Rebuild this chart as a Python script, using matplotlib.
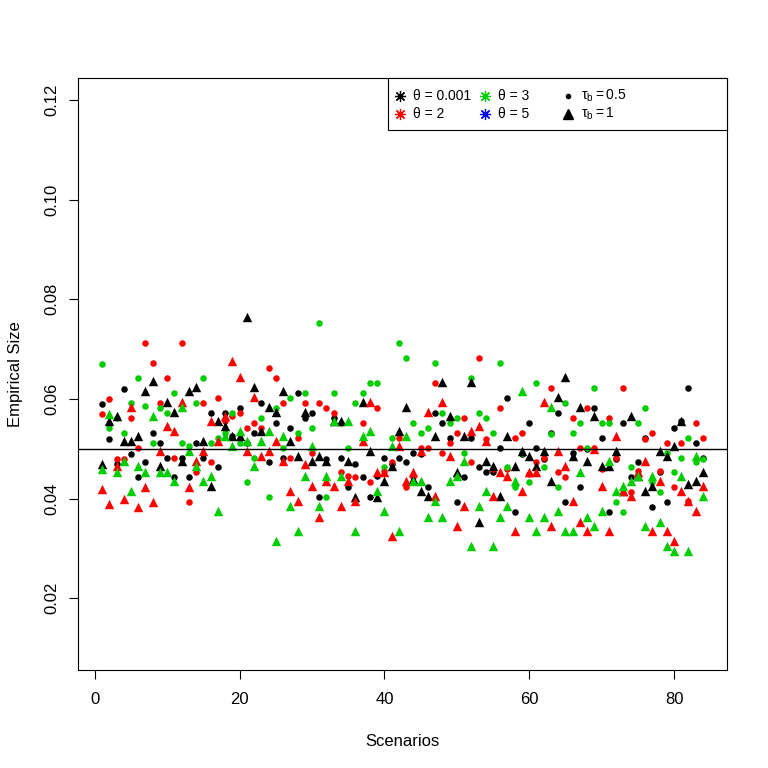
import matplotlib
matplotlib.use("Agg")
import matplotlib.pyplot as plt
import numpy as np
from matplotlib.patches import Rectangle

plt.rcParams['font.family'] = ['Liberation Sans', 'DejaVu Sans']
plt.rcParams['mathtext.default'] = 'regular'

scenarios = np.arange(1, 85)

# tau_b = 0.5 (circles)
size_t05_th0001 = [
    0.059, 0.052, 0.047, 0.062, 0.049, 0.0443, 0.0473, 0.0532, 0.0511, 0.0481,
    0.0443, 0.0481, 0.0443, 0.0511, 0.0481, 0.0572, 0.0463, 0.0572, 0.0525, 0.0582,
    0.0511, 0.0532, 0.0592, 0.0473, 0.0552, 0.0481, 0.0542, 0.0612, 0.0562, 0.0572,
    0.0403, 0.048, 0.0562, 0.0481, 0.0423, 0.047, 0.0443, 0.0403, 0.0445, 0.0481,
    0.047, 0.0481, 0.0473, 0.0491, 0.049, 0.0423, 0.0572, 0.0552, 0.0521, 0.0393,
    0.0443, 0.0521, 0.0463, 0.0453, 0.0453, 0.0501, 0.0602, 0.0373, 0.049, 0.0552,
    0.0501, 0.048, 0.0532, 0.0572, 0.0393, 0.0491, 0.0423, 0.050, 0.0582, 0.0521,
    0.0373, 0.048, 0.0552, 0.0443, 0.0473, 0.0521, 0.0383, 0.0453, 0.0393, 0.0542,
    0.0555, 0.0622, 0.0511, 0.0481]
size_t05_th2 = [
    0.057, 0.060, 0.048, 0.048, 0.0562, 0.0501, 0.0713, 0.0672, 0.0592, 0.0642,
    0.0481, 0.0713, 0.0393, 0.0453, 0.0592, 0.0473, 0.0602, 0.0555, 0.0565, 0.0572,
    0.0542, 0.0552, 0.0542, 0.0662, 0.0642, 0.0592, 0.0481, 0.0521, 0.0592, 0.0491,
    0.0592, 0.0582, 0.0572, 0.0453, 0.0445, 0.0443, 0.0552, 0.0433, 0.0582, 0.0455,
    0.0473, 0.0521, 0.0423, 0.0444, 0.0501, 0.0501, 0.0632, 0.0491, 0.0511, 0.0532,
    0.0562, 0.0473, 0.0682, 0.052, 0.046, 0.0582, 0.046, 0.0521, 0.0532, 0.045,
    0.0473, 0.0481, 0.0622, 0.0453, 0.0443, 0.0562, 0.0501, 0.0582, 0.0501, 0.046,
    0.0562, 0.0481, 0.0622, 0.0413, 0.0455, 0.052, 0.0532, 0.0455, 0.0511, 0.0423,
    0.0511, 0.0395, 0.0552, 0.0521]
size_t05_th3 = [
    0.067, 0.0542, 0.0562, 0.0532, 0.0592, 0.0642, 0.0585, 0.0511, 0.0582, 0.0572,
    0.0612, 0.0511, 0.0505, 0.0592, 0.0642, 0.0511, 0.0521, 0.0532, 0.0572, 0.0511,
    0.0433, 0.0481, 0.0562, 0.0403, 0.0582, 0.0501, 0.0602, 0.0532, 0.0612, 0.0542,
    0.0753, 0.0403, 0.0612, 0.0552, 0.0501, 0.0592, 0.0612, 0.0632, 0.0632, 0.0463,
    0.0521, 0.0713, 0.0682, 0.0552, 0.0532, 0.0542, 0.0672, 0.0572, 0.0552, 0.0562,
    0.0491, 0.0642, 0.0572, 0.0562, 0.0532, 0.0672, 0.0463, 0.0423, 0.0491, 0.0433,
    0.0632, 0.0463, 0.053, 0.0423, 0.0592, 0.0532, 0.0552, 0.0501, 0.0622, 0.0552,
    0.0552, 0.0393, 0.0373, 0.0463, 0.0552, 0.0582, 0.0433, 0.0413, 0.0491, 0.0453,
    0.0481, 0.0521, 0.0473, 0.048]

# tau_b = 1 (triangles)
size_t1_th0001 = [
    0.047, 0.0556, 0.0566, 0.0515, 0.0515, 0.0525, 0.0615, 0.0636, 0.0465, 0.0594,
    0.0574, 0.0475, 0.0615, 0.0624, 0.0515, 0.0425, 0.0556, 0.0546, 0.0525, 0.0525,
    0.0765, 0.0624, 0.0535, 0.0584, 0.0574, 0.0615, 0.0515, 0.0485, 0.0574, 0.0475,
    0.0485, 0.0475, 0.0555, 0.0556, 0.0475, 0.0403, 0.0594, 0.0495, 0.0403, 0.0435,
    0.0465, 0.0535, 0.0584, 0.044, 0.0415, 0.0405, 0.0525, 0.0634, 0.0566, 0.0454,
    0.0525, 0.0634, 0.0354, 0.0475, 0.0465, 0.0405, 0.0525, 0.0465, 0.0495, 0.0485,
    0.0465, 0.0495, 0.0435, 0.0604, 0.0644, 0.0485, 0.0584, 0.0475, 0.0566, 0.0465,
    0.0465, 0.0495, 0.0415, 0.0566, 0.0445, 0.0415, 0.0425, 0.0495, 0.0485, 0.0505,
    0.0556, 0.043, 0.0435, 0.0454]
size_t1_th2 = [
    0.042, 0.039, 0.0466, 0.040, 0.0584, 0.0384, 0.0424, 0.0394, 0.0495, 0.0546,
    0.0535, 0.0594, 0.0424, 0.0475, 0.0495, 0.0556, 0.0515, 0.0566, 0.0676, 0.0644,
    0.0495, 0.0604, 0.0485, 0.0495, 0.0515, 0.0475, 0.0415, 0.0395, 0.047, 0.0425,
    0.0364, 0.0435, 0.0425, 0.0385, 0.0435, 0.0395, 0.0515, 0.0594, 0.0454, 0.0454,
    0.0324, 0.0505, 0.0435, 0.0453, 0.0495, 0.0574, 0.0405, 0.0594, 0.0485, 0.0344,
    0.0385, 0.0535, 0.0546, 0.0515, 0.0405, 0.0454, 0.0445, 0.0334, 0.0415, 0.0454,
    0.0454, 0.0594, 0.0344, 0.0495, 0.0465, 0.0395, 0.0354, 0.0334, 0.050, 0.0425,
    0.0334, 0.0525, 0.0415, 0.0405, 0.0454, 0.0475, 0.0334, 0.0435, 0.0334, 0.0314,
    0.0415, 0.0395, 0.0375, 0.0425]
size_t1_th3 = [
    0.046, 0.057, 0.0454, 0.0475, 0.0415, 0.0465, 0.0454, 0.0566, 0.0454, 0.0454,
    0.0435, 0.0584, 0.0495, 0.0465, 0.0435, 0.0445, 0.0375, 0.0525, 0.0505, 0.0535,
    0.0515, 0.0465, 0.0515, 0.0535, 0.0314, 0.0525, 0.0385, 0.0334, 0.0445, 0.0505,
    0.0385, 0.0445, 0.0556, 0.0445, 0.0556, 0.0334, 0.0525, 0.0535, 0.0415, 0.0375,
    0.0505, 0.0334, 0.0525, 0.0435, 0.0435, 0.0364, 0.0395, 0.0364, 0.0435, 0.0445,
    0.0475, 0.0304, 0.0385, 0.0415, 0.0304, 0.0364, 0.0385, 0.0435, 0.0615, 0.0364,
    0.0334, 0.0364, 0.0584, 0.0375, 0.0334, 0.0334, 0.0454, 0.0364, 0.0344, 0.0375,
    0.0475, 0.0415, 0.0425, 0.0435, 0.0445, 0.0344, 0.0445, 0.0354, 0.0304, 0.0294,
    0.0445, 0.0294, 0.0485, 0.0405]

GREEN = '#00CD00'

fig = plt.figure(figsize=(7.68, 7.68), dpi=100)
ax = fig.add_axes([78 / 768, 1 - 670 / 768, (727 - 78) / 768, (670 - 78) / 768])

circ = dict(marker='o', s=22, linewidths=0)
tri = dict(marker='^', s=46, linewidths=0)
ax.scatter(scenarios, size_t05_th0001, color='black', **circ)
ax.scatter(scenarios, size_t05_th2, color='red', **circ)
ax.scatter(scenarios, size_t05_th3, color=GREEN, **circ)
ax.scatter(scenarios, size_t1_th0001, color='black', **tri)
ax.scatter(scenarios, size_t1_th2, color='red', **tri)
ax.scatter(scenarios, size_t1_th3, color=GREEN, **tri)

ax.axhline(0.05, color='black', lw=1)

ax.set_xlim(1 - 83 * 0.04, 84 + 83 * 0.04)
ax.set_ylim(0.01 - 0.11 * 0.04, 0.12 + 0.11 * 0.04)
ax.set_xticks([0, 20, 40, 60, 80])
ax.set_yticks([0.02, 0.04, 0.06, 0.08, 0.10, 0.12])
ax.set_yticklabels(['0.02', '0.04', '0.06', '0.08', '0.10', '0.12'],
                   rotation=90, va='center')
ax.tick_params(labelsize=12, length=6.5, width=0.8)
ax.tick_params(axis='x', pad=9)
ax.tick_params(axis='y', pad=7)
ax.set_xlabel('Scenarios', fontsize=12, labelpad=20)
ax.set_ylabel('Empirical Size', fontsize=12, labelpad=15)
for sp in ax.spines.values():
    sp.set_linewidth(0.8)

# legend box in R style (uniform column widths), axes-fraction coordinates
def ax_xy(px, py):
    return (px - 78) / 649, (670 - py) / 592

x0, y0 = ax_xy(388, 130)
x1, y1 = ax_xy(727, 78)
ax.add_patch(Rectangle((x0, y0), x1 - x0, y1 - y0, transform=ax.transAxes,
                       facecolor='white', edgecolor='black', lw=0.8,
                       clip_on=False, zorder=5))

star = (8, 2, 0)
leg_items = [
    (400, 96, dict(marker=star, color='black', ms=8, mew=0.9), 'θ = 0.001'),
    (400, 114, dict(marker=star, color='red', ms=8, mew=0.9), 'θ = 2'),
    (485, 96, dict(marker=star, color=GREEN, ms=8, mew=0.9), 'θ = 3'),
    (485, 114, dict(marker=star, color='blue', ms=8, mew=0.9), 'θ = 5'),
    (568, 96, dict(marker='o', color='black', ms=3), r'$\tau_b = 0.5$'),
    (568, 114, dict(marker='^', color='black', ms=7), r'$\tau_b = 1$'),
]
for hx, hy, style, text in leg_items:
    mx, my = ax_xy(hx, hy)
    ax.plot([mx], [my], ls='none', transform=ax.transAxes, clip_on=False,
            zorder=6, **style)
    tx, _ = ax_xy(hx + 13, hy)
    ax.text(tx, my, text, transform=ax.transAxes, ha='left', va='center',
            fontsize=10, zorder=6)

fig.savefig('out.png', dpi=100)
